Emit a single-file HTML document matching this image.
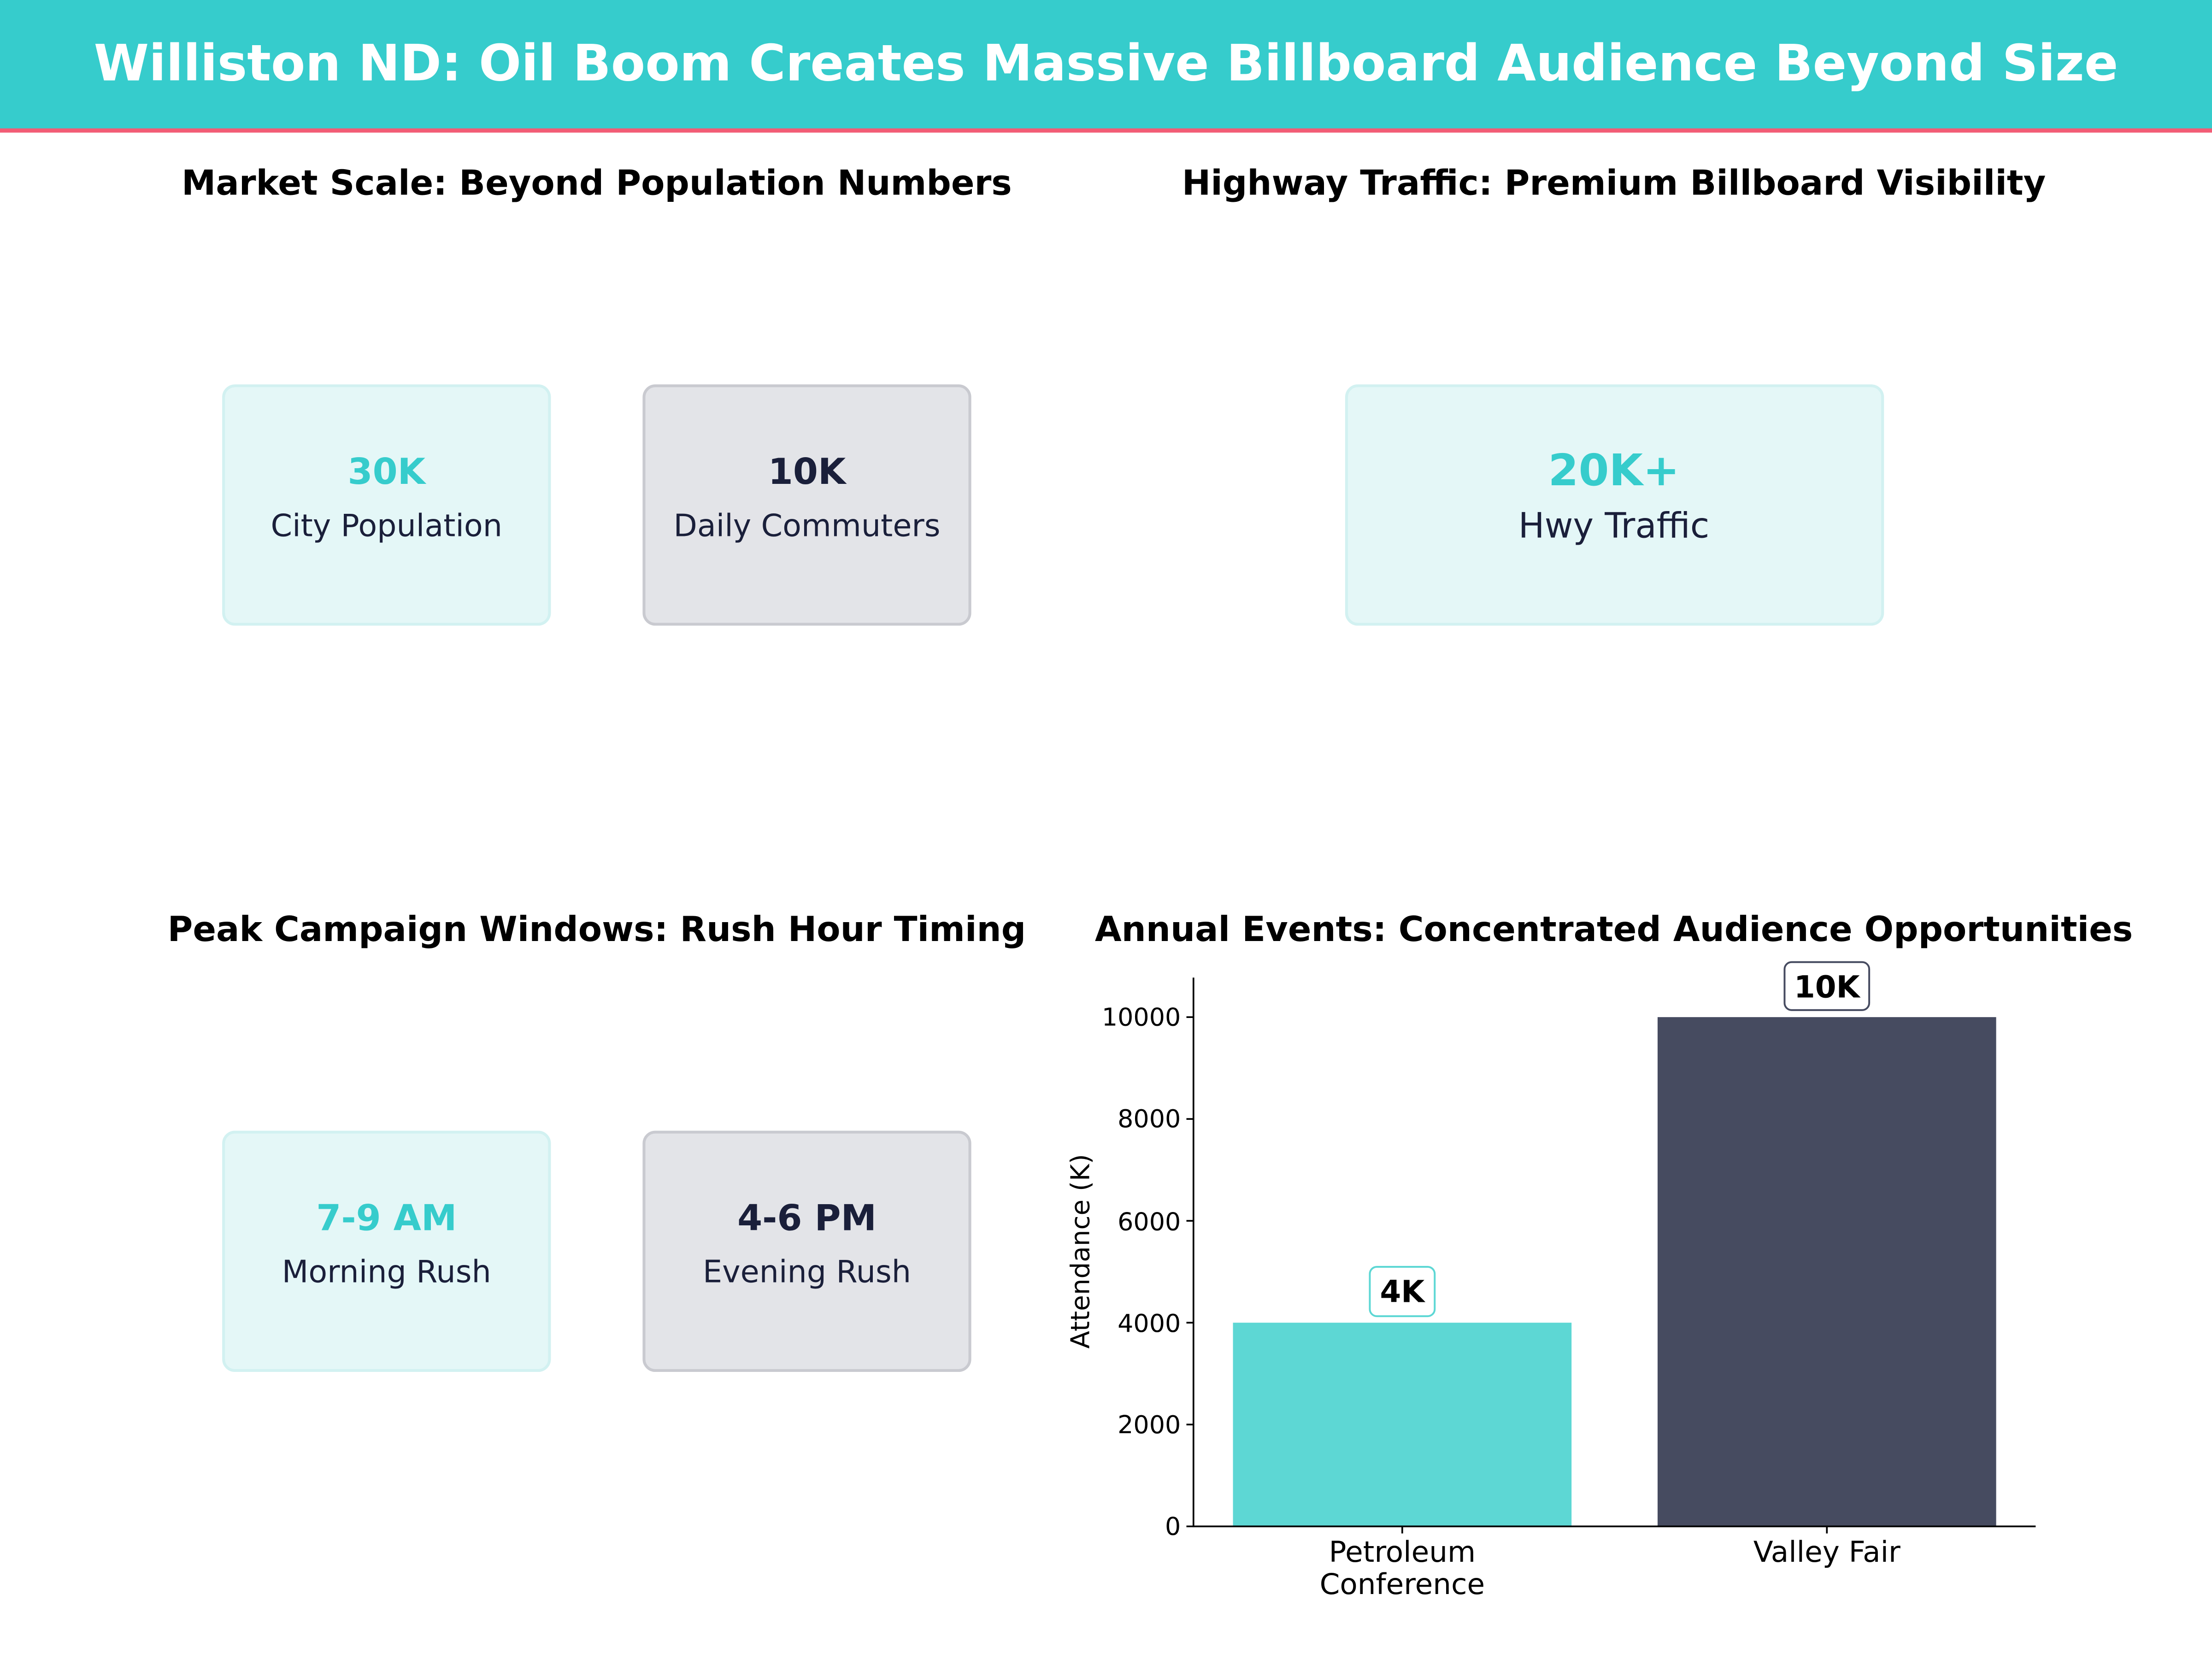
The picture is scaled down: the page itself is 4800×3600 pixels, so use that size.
<!DOCTYPE html>
<html><head><meta charset="utf-8"><style>html,body{margin:0;padding:0;background:#fff}svg{display:block}</style></head>
<body>
<svg xmlns="http://www.w3.org/2000/svg" width="4800" height="3600" viewBox="0 0 1568 1176" font-family="DejaVu Sans, Liberation Sans, sans-serif">
<rect width="1568" height="1176" fill="#fff"/>
<rect x="0" y="0" width="1568" height="92" fill="#36CCCC"/>
<rect x="0" y="91" width="1568" height="3" fill="#F25C75"/>
<text x="784" y="57" text-anchor="middle" font-size="35.4" font-weight="bold" fill="#fff">Williston ND: Oil Boom Creates Massive Billboard Audience Beyond Size</text>

<g font-size="24.4" font-weight="bold" fill="#000" text-anchor="middle">
<text x="423" y="138">Market Scale: Beyond Population Numbers</text>
<text x="1144" y="138">Highway Traffic: Premium Billboard Visibility</text>
<text x="423" y="667">Peak Campaign Windows: Rush Hour Timing</text>
<text x="1144" y="667">Annual Events: Concentrated Audience Opportunities</text>
</g>

<g text-anchor="middle">
<rect x="158.5" y="273.5" width="231" height="169" rx="8" fill="#E4F7F7" stroke="#D2F1F1" stroke-width="2"/>
<text x="274" y="343" font-size="25.4" font-weight="bold" fill="#36CCCC">30K</text>
<text x="274" y="380" font-size="21.8" fill="#1A1F3A">City Population</text>
<rect x="456.5" y="273.5" width="231" height="169" rx="8" fill="#E3E4E8" stroke="#C9CAD0" stroke-width="2"/>
<text x="572" y="343" font-size="25.4" font-weight="bold" fill="#1A1F3A">10K</text>
<text x="572" y="380" font-size="21.8" fill="#1A1F3A">Daily Commuters</text>

<rect x="954.5" y="273.5" width="380" height="169" rx="8" fill="#E4F7F7" stroke="#D2F1F1" stroke-width="2"/>
<text x="1144" y="344" font-size="31" font-weight="bold" fill="#36CCCC">20K+</text>
<text x="1144" y="381" font-size="24.7" fill="#1A1F3A">Hwy Traffic</text>

<rect x="158.5" y="802.5" width="231" height="169" rx="8" fill="#E4F7F7" stroke="#D2F1F1" stroke-width="2"/>
<text x="274" y="872" font-size="25.4" font-weight="bold" fill="#36CCCC">7-9 AM</text>
<text x="274" y="909" font-size="21.8" fill="#1A1F3A">Morning Rush</text>
<rect x="456.5" y="802.5" width="231" height="169" rx="8" fill="#E3E4E8" stroke="#C9CAD0" stroke-width="2"/>
<text x="572" y="872" font-size="25.4" font-weight="bold" fill="#1A1F3A">4-6 PM</text>
<text x="572" y="909" font-size="21.8" fill="#1A1F3A">Evening Rush</text>
</g>

<rect x="874" y="937.6" width="240" height="144.4" fill="#5DD7D4"/>
<rect x="1175" y="721" width="240" height="361" fill="#464B60"/>
<line x1="846" y1="693" x2="846" y2="1082.5" stroke="#000" stroke-width="1.2"/>
<line x1="845.5" y1="1082" x2="1443" y2="1082" stroke="#000" stroke-width="1.2"/>
<g stroke="#000" stroke-width="1.2">
<line x1="841" y1="1082" x2="846" y2="1082"/>
<line x1="841" y1="1009.8" x2="846" y2="1009.8"/>
<line x1="841" y1="937.6" x2="846" y2="937.6"/>
<line x1="841" y1="865.4" x2="846" y2="865.4"/>
<line x1="841" y1="793.2" x2="846" y2="793.2"/>
<line x1="841" y1="721" x2="846" y2="721"/>
<line x1="994" y1="1082" x2="994" y2="1087"/>
<line x1="1295" y1="1082" x2="1295" y2="1087"/>
</g>
<g font-size="17.6" text-anchor="end" fill="#000">
<text x="837" y="1088">0</text>
<text x="837" y="1016">2000</text>
<text x="837" y="944">4000</text>
<text x="837" y="872">6000</text>
<text x="837" y="799">8000</text>
<text x="837" y="727">10000</text>
</g>
<g font-size="20.5" text-anchor="middle" fill="#000">
<text x="994" y="1107">Petroleum</text>
<text x="994" y="1130">Conference</text>
<text x="1295" y="1107">Valley Fair</text>
</g>
<text transform="translate(772,887) rotate(-90)" font-size="18.4" text-anchor="middle" fill="#000">Attendance (K)</text>

<rect x="971" y="898" width="46" height="35" rx="5" fill="#fff" stroke="#5DD7D4" stroke-width="1.3"/>
<text x="994" y="923" font-size="21.5" font-weight="bold" text-anchor="middle" fill="#000">4K</text>
<rect x="1265" y="682" width="60" height="34" rx="5" fill="#fff" stroke="#464B60" stroke-width="1.3"/>
<text x="1295" y="707" font-size="21.5" font-weight="bold" text-anchor="middle" fill="#000">10K</text>
</svg>
</body></html>
